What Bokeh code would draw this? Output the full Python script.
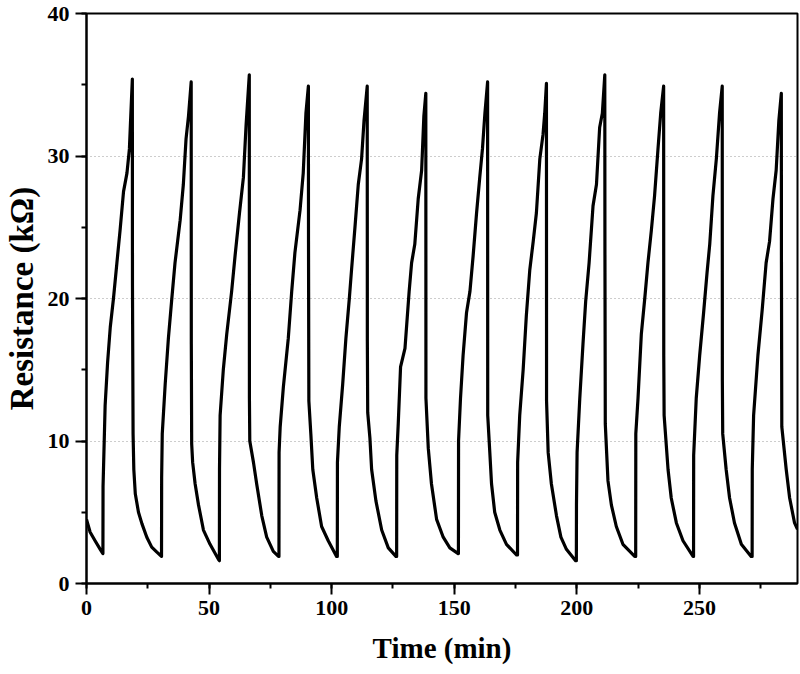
from bokeh.plotting import figure
from bokeh.models import SingleIntervalTicker, Range1d, ColumnDataSource
from bokeh.embed import file_html
from bokeh.resources import INLINE

# ---- data (time in min, resistance in kOhm) ----
c0_t = [0.0, 1.5, 3.5, 5.6, 6.7]
c0_r = [4.5, 3.6, 3.0, 2.4, 2.1]

c1_t = [6.75, 7.6, 8.6, 9.7, 11.0, 12.4, 13.7, 15.1, 16.5, 17.5, 18.1, 18.7,
        18.75, 19.0, 19.3, 19.9, 21.2, 22.6, 24.6, 26.6, 28.7, 30.0, 30.6]
c1_r = [6.8, 12.5, 15.5, 18.0, 20.0, 22.5, 24.8, 27.5, 28.8, 30.5, 33.0, 35.4,
        21.0, 10.5, 8.0, 6.3, 5.0, 4.2, 3.25, 2.55, 2.2, 2.0, 1.9]

c2_t = [30.65, 30.9, 32.1, 33.4, 34.8, 36.1, 38.2, 39.5, 40.6, 41.6, 42.7,
        42.75, 42.9, 43.3, 44.3, 45.7, 47.7, 50.4, 53.8, 54.2]
c2_r = [7.4, 10.5, 14.0, 17.2, 20.0, 22.5, 25.5, 28.0, 31.2, 32.8, 35.2,
        16.8, 9.8, 8.5, 7.0, 5.5, 3.75, 2.75, 1.7, 1.6]

c3_t = [54.25, 54.5, 55.8, 57.2, 59.2, 60.6, 62.4, 64.0, 65.1, 66.4,
        66.45, 66.6, 68.1, 69.4, 71.5, 73.5, 76.2, 78.3]
c3_r = [8.0, 11.8, 15.0, 17.5, 20.5, 23.0, 26.0, 28.5, 32.2, 35.7,
        13.0, 10.0, 8.5, 7.0, 4.75, 3.25, 2.25, 1.9]

c4_t = [78.5, 78.55, 79.0, 80.3, 82.3, 83.7, 85.0, 87.1, 88.4, 89.5, 90.5,
        90.55, 90.7, 91.5, 92.3, 93.9, 95.9, 98.6, 102.0]
c4_r = [1.9, 9.2, 11.0, 13.8, 17.2, 20.5, 23.2, 26.2, 28.8, 33.0, 34.9,
        24.0, 12.8, 10.5, 8.0, 6.0, 4.0, 3.0, 1.9]

c5_t = [102.3, 102.35, 103.1, 104.5, 105.8, 107.2, 108.1, 109.5, 110.85, 112.2,
        113.2, 114.5, 114.55, 114.7, 115.6, 116.3, 118.05, 120.4, 123.1, 126.2]
c5_r = [1.9, 8.5, 11.0, 14.0, 17.2, 20.0, 22.0, 25.0, 28.0, 29.8,
        32.5, 34.9, 17.0, 12.0, 10.2, 8.0, 5.8, 3.75, 2.5, 1.9]

c6_t = [126.5, 126.55, 127.15, 128.1, 129.9, 131.6, 132.6, 133.9, 135.3, 136.7,
        137.6, 138.4, 138.45, 139.4, 140.7, 142.8, 145.5, 148.2, 151.6]
c6_r = [1.9, 9.0, 11.2, 15.2, 16.5, 20.5, 22.5, 23.8, 27.0, 29.0,
        32.8, 34.4, 13.0, 9.5, 7.0, 4.5, 3.25, 2.5, 2.1]

c7_t = [151.7, 151.75, 152.55, 153.6, 155.0, 156.4, 157.7, 159.1, 160.4, 161.5,
        162.5, 163.6, 163.65, 164.5, 165.2, 166.5, 168.6, 171.3, 175.4]
c7_r = [2.1, 10.0, 13.0, 16.0, 19.0, 20.5, 23.0, 26.0, 28.5, 30.5,
        33.0, 35.2, 11.8, 9.2, 7.0, 5.0, 3.75, 2.75, 2.0]

c8_t = [175.8, 175.85, 176.7, 178.1, 179.4, 180.8, 182.2, 183.5, 184.9, 186.2,
        186.9, 187.6, 187.65, 188.3, 189.6, 191.7, 193.5, 195.75, 199.5]
c8_r = [2.0, 8.5, 11.8, 15.0, 18.8, 22.0, 24.0, 26.0, 29.8, 31.5,
        33.0, 35.1, 12.8, 9.2, 7.0, 4.75, 3.25, 2.4, 1.6]

c9_t = [199.8, 199.85, 200.1, 201.2, 202.5, 203.6, 205.0, 206.6, 208.0, 209.3,
        210.4, 211.4, 211.45, 211.6, 212.7, 214.1, 216.1, 218.8, 223.6]
c9_r = [1.6, 5.5, 9.2, 13.0, 16.8, 19.8, 22.5, 26.5, 28.0, 32.0,
        33.0, 35.7, 24.0, 11.2, 7.2, 5.5, 4.0, 2.75, 1.9]

c10_t = [224.0, 224.05, 224.95, 226.3, 227.7, 229.0, 230.4, 231.7, 233.1, 234.2,
         235.4, 235.45, 235.6, 237.2, 238.5, 240.6, 243.3, 247.4]
c10_r = [1.9, 10.5, 13.0, 17.5, 20.0, 22.5, 24.8, 27.2, 30.5, 33.0,
         34.9, 16.0, 11.8, 8.0, 6.0, 4.25, 3.0, 1.9]

c11_t = [247.6, 247.65, 248.7, 250.1, 251.7, 253.1, 254.2, 255.5, 256.9, 258.2,
         259.3, 259.35, 259.5, 260.9, 262.3, 264.3, 267.1, 271.1]
c11_r = [1.9, 9.0, 13.0, 16.0, 19.0, 21.8, 23.8, 27.2, 29.8, 33.0,
         34.9, 14.2, 10.5, 8.0, 6.0, 4.25, 2.75, 1.9]

c12_t = [271.5, 271.55, 272.1, 273.85, 275.6, 277.2, 278.6, 280.0, 281.3, 282.4,
         283.4, 283.45, 283.6, 285.4, 286.8, 288.8, 290.0]
c12_r = [1.9, 8.0, 11.8, 16.0, 19.2, 22.5, 24.0, 27.0, 29.0, 32.5,
         34.4, 22.5, 11.0, 8.0, 6.0, 4.25, 3.8]

cycles_t = [c0_t, c1_t, c2_t, c3_t, c4_t, c5_t, c6_t, c7_t, c8_t, c9_t, c10_t, c11_t, c12_t]
cycles_r = [c0_r, c1_r, c2_r, c3_r, c4_r, c5_r, c6_r, c7_r, c8_r, c9_r, c10_r, c11_r, c12_r]

time_min = [t for c in cycles_t for t in c]
resistance = [r for c in cycles_r for r in c]

x_label = "Time (min)"
y_label = "Resistance (kΩ)"

FONT = "Liberation Serif"
TICK_FS = "22px"

src = ColumnDataSource(dict(t=time_min, r=resistance))

p = figure(width=800, height=674, output_backend="svg", toolbar_location=None,
           x_range=Range1d(0, 290), y_range=Range1d(0, 40),
           min_border_left=86, min_border_right=3, min_border_top=13,
           min_border_bottom=91)
p.background_fill_color = "white"
p.border_fill_color = "white"
p.outline_line_color = "black"
p.outline_line_width = 2

p.line("t", "r", source=src, line_color="black", line_width=3.2, line_join="round")

p.xaxis.ticker = SingleIntervalTicker(interval=50, num_minor_ticks=2)
p.yaxis.ticker = SingleIntervalTicker(interval=10, num_minor_ticks=2)

for ax in (p.xaxis, p.yaxis):
    ax.axis_line_color = "black"
    ax.axis_line_width = 2
    ax.major_tick_line_color = "black"
    ax.major_tick_line_width = 2
    ax.minor_tick_line_color = "black"
    ax.minor_tick_line_width = 2
    ax.major_tick_out = 11
    ax.major_tick_in = 0
    ax.minor_tick_out = 5
    ax.minor_tick_in = 0
    ax.major_label_text_font = FONT
    ax.major_label_text_font_style = "bold"
    ax.major_label_text_color = "black"
    ax.major_label_text_font_size = TICK_FS
    ax.axis_label_text_font = FONT
    ax.axis_label_text_font_style = "bold"
    ax.axis_label_text_color = "black"
    ax.major_label_standoff = 6

p.xaxis.axis_label = x_label
p.yaxis.axis_label = y_label
p.xaxis.axis_label_text_font_size = "29px"
p.yaxis.axis_label_text_font_size = "33px"
p.xaxis.axis_label_standoff = 14
p.yaxis.axis_label_standoff = 5

p.xgrid.visible = False
p.ygrid.grid_line_color = "#9a9a9a"
p.ygrid.grid_line_dash = "1 3"
p.ygrid.grid_line_width = 1

open("out.html", "w").write(file_html(p, INLINE))
